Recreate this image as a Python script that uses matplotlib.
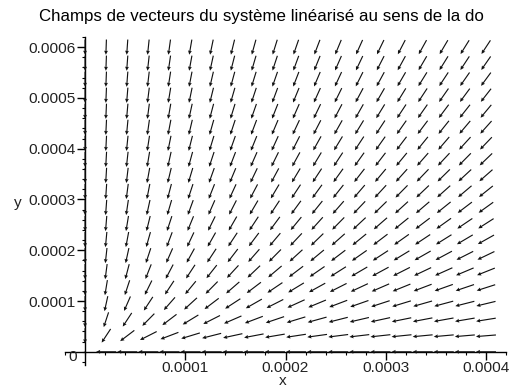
import numpy as np
import matplotlib
matplotlib.use("Agg")
import matplotlib.pyplot as plt
from matplotlib.ticker import FixedLocator, FuncFormatter, MultipleLocator

# ---- data -------------------------------------------------------------
title = "Champs de vecteurs du système linéarisé au sens de la do"
x_grid = np.linspace(0.0, 0.0004, 20)     # 20 columns
y_grid = np.linspace(0.0, 0.0006, 20)     # 20 rows
# linearised system  x' = -a*x , y' = -b*y
coef_a = 1.0
coef_b = 2.0
x_ticks = [0.0001, 0.0002, 0.0003, 0.0004]
x_tick_labels = ["0.0001", "0.0002", "0.0003", "0.0004"]
y_ticks = [0.0001, 0.0002, 0.0003, 0.0004, 0.0005, 0.0006]
y_tick_labels = ["0.0001", "0.0002", "0.0003", "0.0004", "0.0005", "0.0006"]

plt.rcParams['font.family'] = ['Liberation Sans', 'DejaVu Sans']

W, H = 515, 392
fig = plt.figure(figsize=(W / 100, H / 100), dpi=100)
renderer = fig.canvas.get_renderer()


def fit_size(text, target_px, base=10.0):
    t = fig.text(0, 0, text, fontsize=base)
    w = t.get_window_extent(renderer).width
    t.remove()
    return base * target_px / w


title_fs = fit_size(title, 443)
tick_fs = fit_size("0.0006", 47)

# axes box in pixels
left_px, right_px, top_px, bot_px = 65, 506, 37, 365
ax = fig.add_axes([left_px / W, 1 - bot_px / H, (right_px - left_px) / W, (bot_px - top_px) / H])
ax.set_xlim(-2.0e-5, 4.2e-4)
ax.set_ylim(-2.6e-5, 6.2e-4)

X, Y = np.meshgrid(x_grid, y_grid)
U = -coef_a * X
V = -coef_b * Y
dx = x_grid[1] - x_grid[0]
dy = y_grid[1] - y_grid[0]
un = U / dx
vn = V / dy
n = np.hypot(un, vn)
n[n == 0] = 1
f = 0.95
Us = un / n * dx * f
Vs = vn / n * dy * f

ax.quiver(X, Y, Us, Vs, angles='xy', scale_units='xy', scale=1, pivot='mid',
          color='#111111', width=0.0026, headwidth=3.4, headlength=3.6,
          headaxislength=3.2, zorder=3)

for s in ['top', 'right']:
    ax.spines[s].set_visible(False)
ax.spines['left'].set_position(('data', 0))
ax.spines['bottom'].set_position(('data', 0))
for s in ['left', 'bottom']:
    ax.spines[s].set_linewidth(1.0)
    ax.spines[s].set_color('black')

ax.xaxis.set_major_locator(FixedLocator(x_ticks))
ax.xaxis.set_major_formatter(FuncFormatter(lambda v, p: x_tick_labels[p] if p < len(x_tick_labels) else ""))
ax.yaxis.set_major_locator(FixedLocator(y_ticks))
ax.yaxis.set_major_formatter(FuncFormatter(lambda v, p: y_tick_labels[p] if p < len(y_tick_labels) else ""))
ax.xaxis.set_minor_locator(MultipleLocator(0.00002))
ax.yaxis.set_minor_locator(MultipleLocator(0.00002))
ax.tick_params(axis='both', which='major', direction='out', length=6, width=1,
               labelsize=tick_fs, colors='black', pad=0.5, labelcolor='#222222')
ax.tick_params(axis='both', which='minor', direction='out', length=2.5, width=0.8)

fig.text(73 / W, 1 - 357 / H, "0", fontsize=tick_fs, ha='center', va='center', color='#222222')
fig.text(261 / W, 1 - 16 / H, title, fontsize=title_fs, ha='center', va='center')
fig.text(283 / W, 1 - 381 / H, "x", fontsize=tick_fs, ha='center', va='center', color='#222222')
fig.text(18 / W, 1 - 203 / H, "y", fontsize=tick_fs, ha='center', va='center', color='#222222')

fig.savefig("out.png", dpi=100)
